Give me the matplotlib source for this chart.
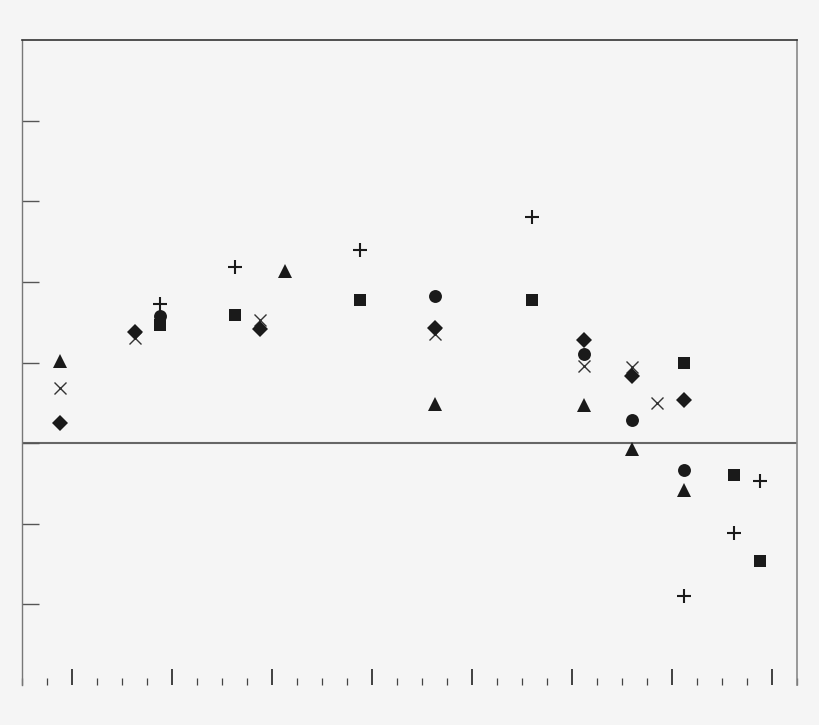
import numpy as np
import matplotlib
matplotlib.use("Agg")
import matplotlib.pyplot as plt
from matplotlib.ticker import FixedLocator, MultipleLocator, NullFormatter

# data (x in tick units, y in left-tick units)
tri_x = [1.5, 10.5, 16.5, 22.45, 24.4, 26.45]
tri_y = [1.02, 2.13, 0.49, 0.47, -0.07, -0.58]

cross_x = [1.5, 4.5, 9.5, 16.5, 22.45, 24.4, 25.4]
cross_y = [0.68, 1.31, 1.53, 1.35, 0.96, 0.94, 0.50]

dia_x = [1.5, 4.5, 9.5, 16.5, 22.45, 24.4, 26.45]
dia_y = [0.25, 1.38, 1.41, 1.43, 1.28, 0.83, 0.53]

plus_x = [5.5, 8.5, 13.5, 20.4, 26.45, 28.45, 29.5]
plus_y = [1.73, 2.19, 2.39, 2.81, -1.90, -1.11, -0.47]

circ_x = [5.5, 16.5, 22.45, 24.4, 26.45]
circ_y = [1.58, 1.82, 1.10, 0.29, -0.33]

sq_x = [5.5, 8.5, 13.5, 20.4, 26.45, 28.45, 29.5]
sq_y = [1.47, 1.59, 1.78, 1.78, 0.99, -0.40, -1.46]

major_x = [2, 6, 10, 14, 18, 22, 26, 30]
left_ticks = [-2, -1, 0, 1, 2, 3, 4]

bg = '#f5f5f5'
fig = plt.figure(figsize=(8.2, 7.25), dpi=100, facecolor=bg)
ax = fig.add_axes([22.5 / 820, 40 / 725, 775 / 820, 645 / 725], facecolor=bg)

ink = '#1a1a1a'
ax.axhline(0, color='#666666', lw=1.5, zorder=1)

ax.plot(tri_x, tri_y, ls='none', marker='^', ms=10, color=ink, mew=0)
ax.plot(cross_x, cross_y, ls='none', marker='x', ms=9, color='#333333', mew=1.0)
ax.plot(dia_x, dia_y, ls='none', marker='D', ms=8.2, color=ink, mew=0)
ax.plot(plus_x, plus_y, ls='none', marker='+', ms=9.5, color=ink, mew=1.5)
ax.plot(circ_x, circ_y, ls='none', marker='o', ms=9.3, color=ink, mew=0)
ax.plot(sq_x, sq_y, ls='none', marker='s', ms=8.2, color=ink, mew=0)

ax.set_xlim(0, 31)
ax.set_ylim(-3, 5)

ax.spines['bottom'].set_visible(False)
ax.spines['top'].set_color('#333333')
ax.spines['top'].set_linewidth(1.2)
ax.spines['left'].set_color('#777777')
ax.spines['left'].set_linewidth(1.0)
ax.spines['right'].set_color('#888888')
ax.spines['right'].set_linewidth(1.2)

ax.xaxis.set_major_locator(FixedLocator(major_x))
ax.xaxis.set_minor_locator(MultipleLocator(1))
ax.yaxis.set_major_locator(FixedLocator(left_ticks))
ax.xaxis.set_major_formatter(NullFormatter())
ax.yaxis.set_major_formatter(NullFormatter())

ax.tick_params(axis='x', which='major', direction='in', length=11.5, width=1.2,
               color='#222222', bottom=True, top=False)
ax.tick_params(axis='x', which='minor', direction='in', length=5, width=0.9,
               color='#444444', bottom=True, top=False)
ax.tick_params(axis='y', which='major', direction='in', length=12, width=1.0,
               color='#555555', left=True, right=False)

fig.savefig('out.png', dpi=100, facecolor=bg)
